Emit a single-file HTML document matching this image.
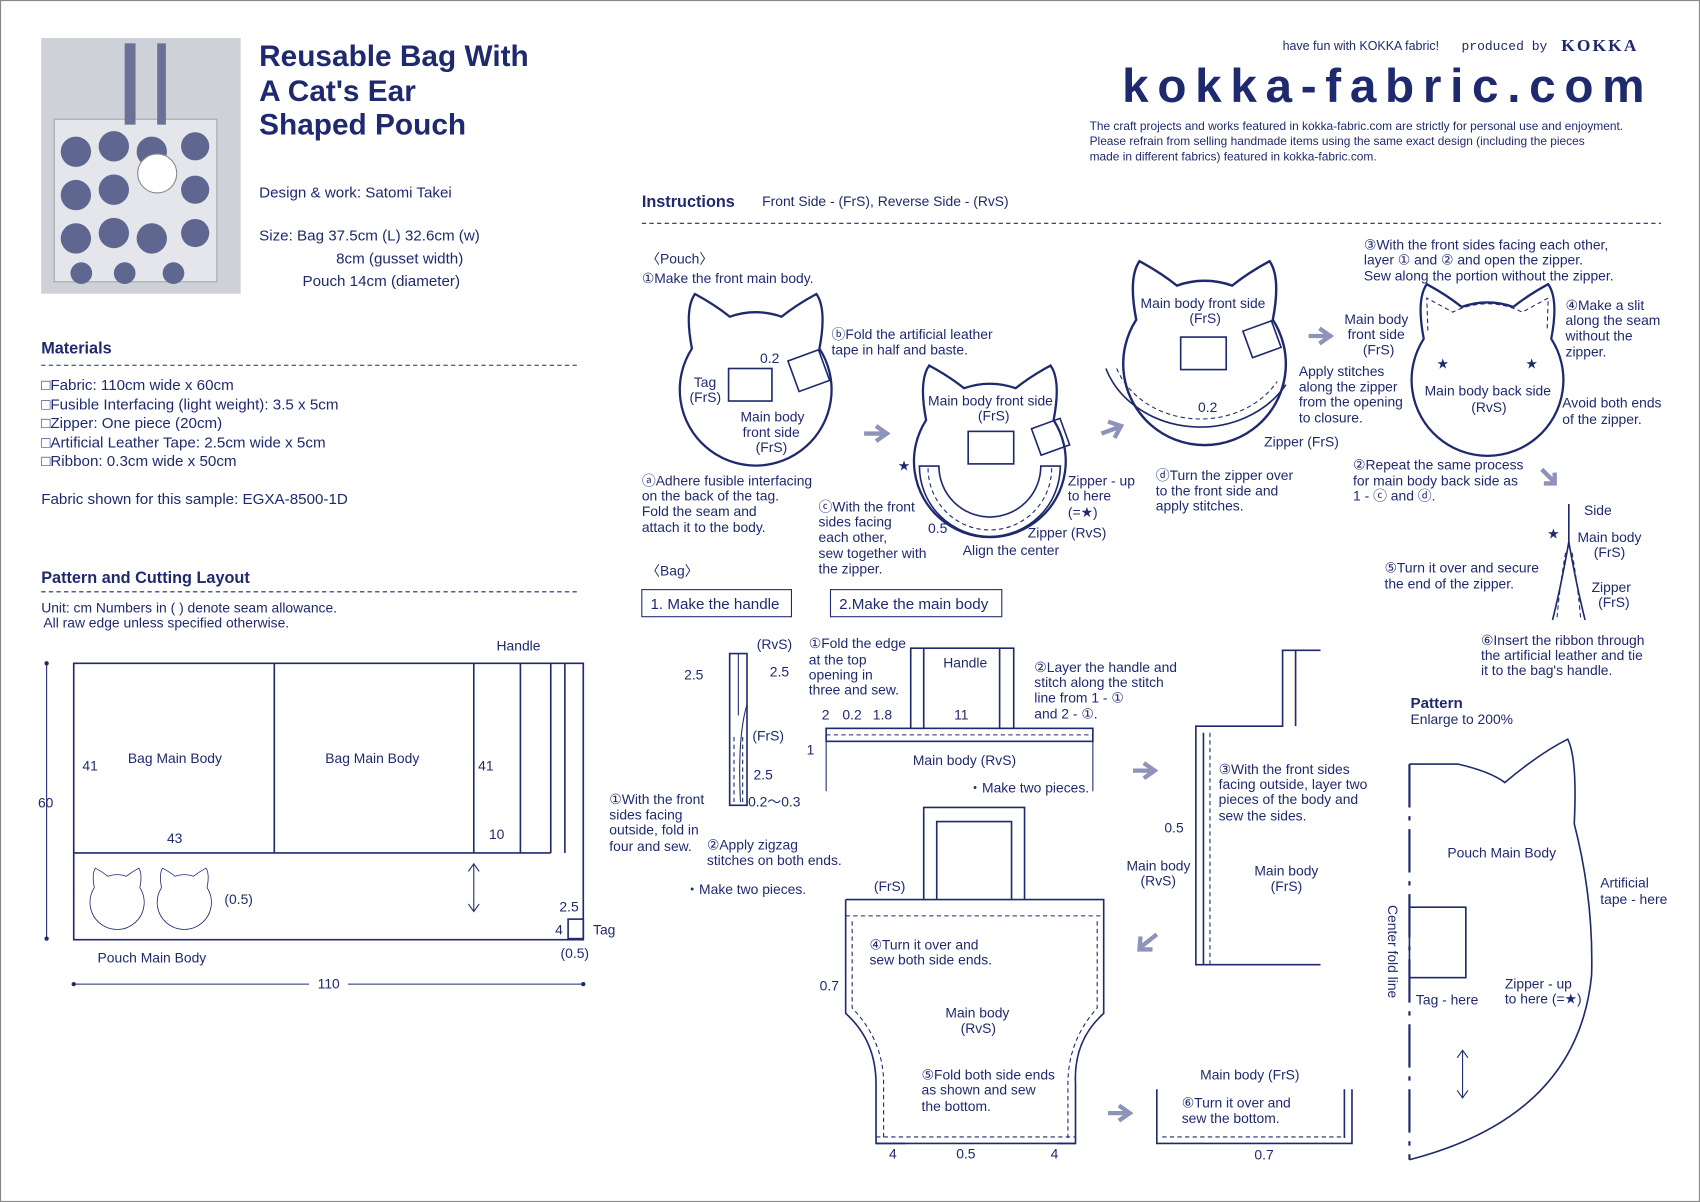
<!DOCTYPE html>
<html><head><meta charset="utf-8"><style>
html,body{margin:0;padding:0;background:#fff}
svg{display:block}
text{font-family:"Liberation Sans",sans-serif;fill:#1f2a6e}
.s{font-size:12.8px}
.m{font-size:14px}
.ln{stroke:#1f2a6e;fill:none;stroke-width:1.5}
.th{stroke:#1f2a6e;fill:none;stroke-width:1}
.da{stroke:#1f2a6e;fill:none;stroke-width:1;stroke-dasharray:4 3}
</style></head><body>
<svg width="1700" height="1202" viewBox="0 0 1568 1109" preserveAspectRatio="none" xmlns="http://www.w3.org/2000/svg">
<defs>
<path id="cat" d="M -42,-26 Q -47,-52 -40,-62 Q -27,-55 -17,-47 A 50 50 0 0 1 17,-47 Q 27,-55 40,-62 Q 47,-52 42,-26 A 50 50 0 1 1 -42,-26 Z"/>
</defs>
<rect x="0.5" y="0.5" width="1567" height="1108" fill="#fff" stroke="#888"/>
<!-- photo -->
<rect x="38" y="35" width="184" height="236" fill="#cfd1d9"/>
<rect x="50" y="110" width="150" height="150" fill="#e4e6ec" stroke="#9aa" />
<g fill="#5f6690">
<circle cx="70" cy="140" r="14"/><circle cx="105" cy="135" r="14"/><circle cx="140" cy="140" r="14"/><circle cx="180" cy="135" r="13"/>
<circle cx="70" cy="180" r="14"/><circle cx="105" cy="175" r="14"/><circle cx="180" cy="175" r="13"/>
<circle cx="70" cy="220" r="14"/><circle cx="105" cy="215" r="14"/><circle cx="140" cy="220" r="14"/><circle cx="180" cy="215" r="13"/>
<circle cx="75" cy="252" r="10"/><circle cx="115" cy="252" r="10"/><circle cx="160" cy="252" r="10"/>
</g>
<circle cx="145" cy="160" r="18" fill="#fff" stroke="#888"/>
<rect x="115" y="40" width="10" height="75" fill="#6b7096"/><rect x="145" y="40" width="8" height="75" fill="#6b7096"/>
<!-- title -->
<text x="239" y="61" style="font-size:27.5px;font-weight:bold">Reusable Bag With</text>
<text x="239" y="93" style="font-size:27.5px;font-weight:bold">A Cat's Ear</text>
<text x="239" y="124" style="font-size:27.5px;font-weight:bold">Shaped Pouch</text>
<text x="239" y="182" class="m">Design &amp; work: Satomi Takei</text>
<text x="239" y="222" class="m">Size: Bag  37.5cm (L)  32.6cm (w)</text>
<text x="310" y="243" class="m">8cm (gusset width)</text>
<text x="279" y="264" class="m">Pouch  14cm (diameter)</text>
<!-- header right -->
<text x="1183" y="46" style="font-size:11.5px">have fun with KOKKA fabric!</text>
<text x="1348" y="46" style="font-size:12px;font-family:'Liberation Mono',monospace">produced by</text>
<text x="1440" y="47" style="font-size:16px;font-weight:bold;font-family:'Liberation Serif',serif;letter-spacing:2px">KOKKA</text>
<text x="1035" y="94" style="font-size:44px;font-weight:bold;letter-spacing:8px">kokka-fabric.com</text>
<text x="1005" y="120" style="font-size:11px">The craft projects and works featured in kokka-fabric.com are strictly for personal use and enjoyment.</text>
<text x="1005" y="134" style="font-size:11px">Please refrain from selling handmade items using the same exact design (including the pieces</text>
<text x="1005" y="148" style="font-size:11px">made in different fabrics) featured in kokka-fabric.com.</text>
<!-- materials -->
<text x="38" y="326" style="font-size:15px;font-weight:bold">Materials</text>
<line x1="38" y1="337" x2="535" y2="337" class="da" stroke-width="1.5"/>
<text x="38" y="360" class="m">□Fabric: 110cm wide x 60cm</text>
<text x="38" y="378" class="m">□Fusible Interfacing (light weight): 3.5 x 5cm</text>
<text x="38" y="395" class="m">□Zipper: One piece (20cm)</text>
<text x="38" y="413" class="m">□Artificial Leather Tape: 2.5cm wide x 5cm</text>
<text x="38" y="430" class="m">□Ribbon: 0.3cm wide x 50cm</text>
<text x="38" y="465" class="m">Fabric shown for this sample: EGXA-8500-1D</text>
<text x="38" y="538" style="font-size:15px;font-weight:bold">Pattern and Cutting Layout</text>
<line x1="38" y1="546" x2="535" y2="546" class="da" stroke-width="1.5"/>
<text x="38" y="565" class="s">Unit: cm    Numbers in (     ) denote seam allowance.</text>
<text x="40" y="579" class="s">All raw edge unless specified otherwise.</text>
<!-- cutting layout -->
<rect x="68" y="612" width="470" height="255" class="ln"/>
<line x1="68" y1="787" x2="508" y2="787" class="ln"/>
<line x1="253" y1="612" x2="253" y2="787" class="ln"/>
<line x1="437" y1="612" x2="437" y2="787" class="ln"/>
<line x1="480" y1="612" x2="480" y2="787" class="ln"/>
<line x1="508" y1="612" x2="508" y2="787" class="ln"/>
<line x1="521" y1="612" x2="521" y2="787" class="ln"/>
<text x="118" y="704" class="s">Bag Main Body</text>
<text x="300" y="704" class="s">Bag Main Body</text>
<text x="76" y="711" class="s">41</text><text x="441" y="711" class="s">41</text>
<text x="154" y="778" class="s">43</text><text x="451" y="774" class="s">10</text>
<text x="458" y="600" class="s">Handle</text>
<text x="35" y="745" class="s">60</text>
<line x1="43" y1="612" x2="43" y2="866" class="th"/>
<circle cx="43" cy="612" r="2" fill="#1f2a6e"/><circle cx="43" cy="866" r="2" fill="#1f2a6e"/>
<line x1="68" y1="908" x2="538" y2="908" class="th"/>
<circle cx="68" cy="908" r="2" fill="#1f2a6e"/><circle cx="538" cy="908" r="2" fill="#1f2a6e"/>
<rect x="285" y="900" width="36" height="14" fill="#fff"/><text x="293" y="912" class="s">110</text>
<line x1="437" y1="798" x2="437" y2="840" class="th"/>
<path d="M432,804 L437,797 L442,804 M432,834 L437,841 L442,834" class="th"/>
<g transform="translate(108,832) scale(0.5)"><use href="#cat" class="ln" stroke-width="3"/></g>
<g transform="translate(170,832) scale(0.5)"><use href="#cat" class="ln" stroke-width="3"/></g>
<text x="207" y="834" class="s">(0.5)</text>
<text x="90" y="888" class="s">Pouch Main Body</text>
<rect x="524" y="848" width="14" height="18" class="ln"/>
<text x="516" y="841" class="s">2.5</text><text x="512" y="862" class="s">4</text>
<text x="547" y="862" class="s">Tag</text><text x="517" y="884" class="s">(0.5)</text>
<!-- instructions -->
<text x="592" y="191" style="font-size:15px;font-weight:bold">Instructions</text>
<text x="703" y="190" class="s">Front Side - (FrS), Reverse Side - (RvS)</text>
<line x1="592" y1="206" x2="1532" y2="206" class="da" stroke-width="1.5"/>
<text x="596" y="243" class="s">〈Pouch〉</text>
<text x="592" y="261" class="s">①Make the front main body.</text>
<!-- pouch step 1 -->
<g transform="translate(697,358) scale(1.4)"><use href="#cat" class="ln" stroke-width="1.1"/></g>
<rect x="672" y="340" width="40" height="30" class="ln"/>
<rect x="731" y="327" width="30" height="30" class="ln" transform="rotate(-20 746 342)"/>
<text x="701" y="335" class="s">0.2</text>
<text x="640" y="357" class="s">Tag</text><text x="636" y="371" class="s">(FrS)</text>
<text x="683" y="389" class="s">Main body</text><text x="685" y="403" class="s">front side</text><text x="697" y="417" class="s">(FrS)</text>
<text x="767" y="313" class="s">ⓑFold the artificial leather</text>
<text x="767" y="327" class="s">tape in half and baste.</text>
<text x="592" y="448" class="s">ⓐAdhere fusible interfacing</text>
<text x="592" y="462" class="s">on the back of the tag.</text>
<text x="592" y="476" class="s">Fold the seam and</text>
<text x="592" y="491" class="s">attach it to the body.</text>
<path d="M797,400 L815,400 M808,393 L818,400 L808,407" stroke="#8d93bb" stroke-width="4" fill="none"/>
<!-- step c -->
<g transform="translate(913,424) scale(1.4)"><use href="#cat" class="ln" stroke-width="1.1"/></g>
<path d="M848,430 A65 65 0 0 0 978,430 L960,430 A47 47 0 0 1 866,430 Z" class="ln"/>
<path d="M856,432 A57 57 0 0 0 970,432" class="da" stroke-width="4"/>
<rect x="893" y="398" width="42" height="30" class="ln"/>
<rect x="955" y="390" width="28" height="26" class="ln" transform="rotate(-20 969 403)"/>
<text x="856" y="374" class="s">Main body front side</text><text x="902" y="388" class="s">(FrS)</text>
<text x="828" y="434" class="s">★</text>
<text x="755" y="472" class="s">ⓒWith the front</text><text x="755" y="486" class="s">sides facing</text><text x="755" y="500" class="s">each other,</text>
<text x="755" y="515" class="s">sew together with</text><text x="755" y="529" class="s">the zipper.</text>
<text x="856" y="492" class="s">0.5</text>
<text x="888" y="512" class="s">Align the center</text>
<text x="985" y="448" class="s">Zipper - up</text><text x="985" y="462" class="s">to here</text><text x="985" y="477" class="s">(=★)</text>
<text x="948" y="496" class="s">Zipper (RvS)</text>
<path d="M1016,400 L1032,394 M1022,389 L1034,393 L1028,404" stroke="#8d93bb" stroke-width="4" fill="none"/>
<!-- step d -->
<g transform="translate(1111,334) scale(1.5)"><use href="#cat" class="ln" stroke-width="1.1"/></g>
<path d="M1020,340 A92 80 0 0 0 1186,355" class="ln" stroke-width="2"/>
<path d="M1030,340 A82 70 0 0 0 1178,352" class="da" stroke-width="4"/>
<rect x="1089" y="311" width="42" height="30" class="ln"/>
<rect x="1150" y="300" width="28" height="26" class="ln" transform="rotate(-20 1164 313)"/>
<text x="1052" y="284" class="s">Main body front side</text><text x="1097" y="298" class="s">(FrS)</text>
<text x="1105" y="380" class="s">0.2</text>
<text x="1198" y="347" class="s">Apply stitches</text><text x="1198" y="361" class="s">along the zipper</text>
<text x="1198" y="375" class="s">from the opening</text><text x="1198" y="390" class="s">to closure.</text>
<text x="1166" y="412" class="s">Zipper (FrS)</text>
<text x="1066" y="443" class="s">ⓓTurn the zipper over</text><text x="1066" y="457" class="s">to the front side and</text><text x="1066" y="471" class="s">apply stitches.</text>
<path d="M1207,310 L1224,310 M1217,303 L1227,310 L1217,317" stroke="#8d93bb" stroke-width="4" fill="none"/>
<!-- step 3 -->
<text x="1258" y="230" class="s">③With the front sides facing each other,</text>
<text x="1258" y="244" class="s">layer ① and ② and open the zipper.</text>
<text x="1258" y="259" class="s">Sew along the portion without the zipper.</text>
<g transform="translate(1372,349) scale(1.4)"><use href="#cat" class="ln" stroke-width="1.1"/></g>
<path d="M1317,305 L1316,275 L1340,288 A70 70 0 0 1 1404,288 L1428,275 L1427,305" class="da" stroke-width="3"/>
<text x="1240" y="299" class="s">Main body</text><text x="1243" y="313" class="s">front side</text><text x="1257" y="327" class="s">(FrS)</text>
<text x="1325" y="340" class="s">★</text><text x="1407" y="340" class="s">★</text>
<text x="1314" y="365" class="s">Main body back side</text><text x="1357" y="380" class="s">(RvS)</text>
<text x="1444" y="286" class="s">④Make a slit</text><text x="1444" y="300" class="s">along the seam</text><text x="1444" y="314" class="s">without the</text><text x="1444" y="329" class="s">zipper.</text>
<text x="1441" y="376" class="s">Avoid both ends</text><text x="1441" y="391" class="s">of the zipper.</text>
<text x="1248" y="433" class="s">②Repeat the same process</text><text x="1248" y="448" class="s">for main body back side as</text><text x="1248" y="462" class="s">1 - ⓒ and ⓓ.</text>
<path d="M1422,433 L1433,444 M1424,446 L1434,446 L1434,436" stroke="#8d93bb" stroke-width="4" fill="none"/>
<!-- step 5 zipper -->
<line x1="1447" y1="465" x2="1447" y2="505" class="ln"/>
<path d="M1447,500 Q1440,540 1432,572 M1447,500 Q1454,540 1462,572" class="ln"/>
<path d="M1444,510 Q1438,545 1436,572 M1450,510 Q1456,545 1458,572" class="da"/>
<text x="1461" y="475" class="s">Side</text><text x="1427" y="497" class="s">★</text>
<text x="1455" y="500" class="s">Main body</text><text x="1470" y="514" class="s">(FrS)</text>
<text x="1468" y="546" class="s">Zipper</text><text x="1474" y="560" class="s">(FrS)</text>
<text x="1277" y="528" class="s">⑤Turn it over and secure</text><text x="1277" y="543" class="s">the end of the zipper.</text>
<text x="1366" y="595" class="s">⑥Insert the ribbon through</text><text x="1366" y="609" class="s">the artificial leather and tie</text><text x="1366" y="623" class="s">it to the bag's handle.</text>
<!-- pattern -->
<text x="1301" y="653" style="font-size:14px;font-weight:bold">Pattern</text>
<text x="1301" y="668" class="s">Enlarge to 200%</text>
<path d="M1300,705 L1345,705 Q1375,712 1388,722 Q1420,695 1446,682 Q1455,700 1452,760 Q1470,830 1468,900 Q1455,1030 1300,1070" class="ln" stroke-width="2"/>
<line x1="1300" y1="705" x2="1300" y2="1070" stroke="#1f2a6e" stroke-width="2" stroke-dasharray="40 8 4 8"/>
<rect x="1300" y="837" width="52" height="65" class="ln"/>
<text x="1335" y="791" class="s">Pouch Main Body</text>
<text x="1280" y="835" class="s" transform="rotate(90 1280 835)">Center fold line</text>
<text x="1306" y="927" class="s">Tag - here</text>
<text x="1388" y="912" class="s">Zipper - up</text><text x="1388" y="926" class="s">to here (=★)</text>
<text x="1476" y="819" class="s">Artificial</text><text x="1476" y="834" class="s">tape - here</text>
<line x1="1349" y1="970" x2="1349" y2="1012" class="th"/>
<path d="M1344,976 L1349,969 L1354,976 M1344,1006 L1349,1013 L1354,1006" class="th"/>
<!-- bag -->
<text x="596" y="531" class="s">〈Bag〉</text>
<rect x="592" y="544" width="138" height="25" class="th"/><text x="600" y="562" class="m">1. Make the handle</text>
<rect x="766" y="544" width="158" height="25" class="th"/><text x="774" y="562" class="m">2.Make the main body</text>
<!-- handle -->
<rect x="673" y="603" width="16" height="140" class="ln"/>
<line x1="681" y1="603" x2="681" y2="660" class="th"/>
<path d="M689,650 Q680,680 683,740" class="th"/>
<line x1="677" y1="680" x2="677" y2="740" class="da"/><line x1="685" y1="680" x2="685" y2="740" class="da"/>
<text x="698" y="599" class="s">(RvS)</text><text x="631" y="627" class="s">2.5</text><text x="710" y="624" class="s">2.5</text>
<text x="694" y="683" class="s">(FrS)</text><text x="695" y="719" class="s">2.5</text><text x="690" y="744" class="s">0.2～0.3</text>
<text x="562" y="742" class="s">①With the front</text><text x="562" y="756" class="s">sides facing</text><text x="562" y="770" class="s">outside, fold in</text><text x="562" y="785" class="s">four and sew.</text>
<text x="652" y="784" class="s">②Apply zigzag</text><text x="652" y="798" class="s">stitches on both ends.</text>
<text x="632" y="825" class="s">・Make two pieces.</text>
<!-- main body step 1,2 -->
<path d="M840,672 L840,598 L935,598 L935,672 M852,672 L852,598 M922,672 L922,598" class="ln"/>
<rect x="762" y="672" width="246" height="12" class="ln"/>
<line x1="762" y1="678" x2="1008" y2="678" class="da"/>
<line x1="762" y1="684" x2="762" y2="730" class="th"/><line x1="1008" y1="684" x2="1008" y2="730" class="th"/>
<text x="870" y="616" class="s">Handle</text>
<text x="746" y="598" class="s">①Fold the edge</text><text x="746" y="613" class="s">at the top</text><text x="746" y="627" class="s">opening in</text><text x="746" y="641" class="s">three and sew.</text>
<text x="758" y="664" class="s">2</text><text x="777" y="664" class="s">0.2</text><text x="805" y="664" class="s">1.8</text><text x="880" y="664" class="s">11</text>
<text x="744" y="696" class="s">1</text>
<text x="954" y="620" class="s">②Layer the handle and</text><text x="954" y="634" class="s">stitch along the stitch</text><text x="954" y="648" class="s">line from 1 - ①</text><text x="954" y="663" class="s">and 2 - ①.</text>
<text x="842" y="706" class="s">Main body (RvS)</text><text x="893" y="731" class="s">・Make two pieces.</text>
<path d="M1045,711 L1062,711 M1055,704 L1065,711 L1055,718" stroke="#8d93bb" stroke-width="4" fill="none"/>
<!-- step 3 bag -->
<path d="M1218,600 L1183,600 L1183,670 L1103,670 L1103,890 L1218,890 M1195,600 L1195,670 M1110,676 L1110,890" class="ln"/>
<line x1="1116" y1="676" x2="1116" y2="890" class="da"/>
<text x="1124" y="714" class="s">③With the front sides</text><text x="1124" y="728" class="s">facing outside, layer two</text><text x="1124" y="742" class="s">pieces of the body and</text><text x="1124" y="757" class="s">sew the sides.</text>
<text x="1074" y="768" class="s">0.5</text>
<text x="1039" y="803" class="s">Main body</text><text x="1052" y="817" class="s">(RvS)</text>
<text x="1157" y="808" class="s">Main body</text><text x="1172" y="822" class="s">(FrS)</text>
<path d="M1067,862 L1052,874 M1052,864 L1051,876 L1063,876" stroke="#8d93bb" stroke-width="4" fill="none"/>
<!-- step 4,5 -->
<path d="M852,830 L852,745 L945,745 L945,830 M864,830 L864,758 L933,758 L933,830" class="ln"/>
<path d="M780,830 L1018,830 L1018,935 Q990,960 992,1000 L992,1055 L975,1055 M780,830 L780,935 Q808,960 808,1000 L808,1055 L835,1055" class="ln"/>
<line x1="780" y1="845" x2="1018" y2="845" class="da"/>
<path d="M786,850 L786,930 Q815,960 815,1000 L815,1050 M1012,850 L1012,930 Q985,960 985,1000 L985,1050" class="da"/>
<line x1="808" y1="1055" x2="992" y2="1055" class="ln"/>
<line x1="808" y1="1049" x2="992" y2="1049" class="da"/>
<text x="806" y="822" class="s">(FrS)</text>
<text x="802" y="876" class="s">④Turn it over and</text><text x="802" y="890" class="s">sew both side ends.</text>
<text x="756" y="914" class="s">0.7</text>
<text x="872" y="939" class="s">Main body</text><text x="886" y="953" class="s">(RvS)</text>
<text x="850" y="996" class="s">⑤Fold both side ends</text><text x="850" y="1010" class="s">as shown and sew</text><text x="850" y="1025" class="s">the bottom.</text>
<text x="820" y="1069" class="s">4</text><text x="882" y="1069" class="s">0.5</text><text x="969" y="1069" class="s">4</text>
<path d="M1022,1027 L1039,1027 M1032,1020 L1042,1027 L1032,1034" stroke="#8d93bb" stroke-width="4" fill="none"/>
<!-- step 6 -->
<path d="M1067,1005 L1067,1055 L1247,1055 L1247,1005 M1240,1005 L1240,1050" class="ln"/>
<line x1="1072" y1="1049" x2="1240" y2="1049" class="da"/>
<text x="1107" y="996" class="s">Main body (FrS)</text>
<text x="1090" y="1022" class="s">⑥Turn it over and</text><text x="1090" y="1036" class="s">sew the bottom.</text>
<text x="1157" y="1070" class="s">0.7</text>
</svg>
</body></html>
